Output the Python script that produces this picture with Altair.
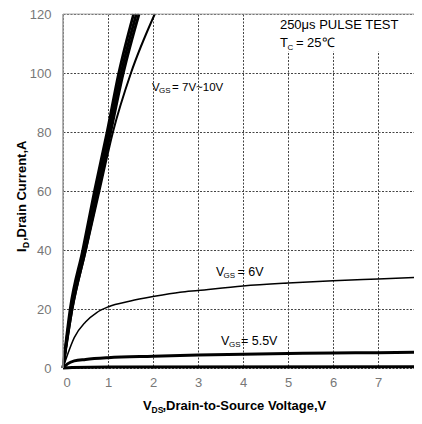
import altair as alt
import pandas as pd

# ---------------- data ----------------
x_ticks = [0, 1, 2, 3, 4, 5, 6, 7, 8]
y_ticks = [0, 20, 40, 60, 80, 100, 120]
x_domain = [0, 8]
y_domain = [0, 120]

# steep family, VGS = 7V ~ 10V (current points shared)
steep_i = [0, 20, 40, 60, 80, 100, 120]
vgs10_v = [0, 0.16, 0.44, 0.70, 0.98, 1.24, 1.57]
vgs9_v = [0, 0.18, 0.47, 0.74, 1.02, 1.29, 1.63]
vgs8_v = [0, 0.20, 0.50, 0.78, 1.06, 1.34, 1.69]
vgs7_v = [0, 0.21, 0.51, 0.81, 1.11, 1.51, 2.04]

vgs6_v = [0, 0.1, 0.25, 0.5, 0.75, 1.0, 1.5, 2.0, 2.6, 3.0, 4.0, 5.0, 6.0, 7.0, 8.0]
vgs6_i = [0, 4.5, 10.3, 15.6, 18.8, 20.7, 22.7, 24.2, 25.7, 26.3, 27.8, 28.8, 29.6, 30.2, 30.8]

vgs55_v = [0, 0.1, 0.25, 0.5, 1.0, 2.0, 3.0, 4.0, 5.0, 6.0, 7.0, 8.0]
vgs55_i = [0, 1.4, 2.4, 2.9, 3.5, 4.0, 4.4, 4.7, 4.9, 5.1, 5.2, 5.4]

vgs5_v = [0, 0.2, 1.0, 8.0]
vgs5_i = [0, 0.2, 0.3, 0.4]

# annotation texts (anchor in data units)
note_pulse = "250\u03bcs PULSE TEST"
note_tc = ["T", "C", "= 25\u2103"]
lab_steep = ["V", "GS", "= 7V~10V"]
lab_6 = ["V", "GS", "= 6V"]
lab_55 = ["V", "GS", "= 5.5V"]
x_title = ["V", "DS", ",Drain-to-Source Voltage,V"]
y_title = ["I", "D", ",Drain Current,A"]

FONT = "Liberation Sans"
W, H = 351, 354      # visible plot area (right part of the 0..8 range is cut, as in the source)
X_RANGE = 360        # pixel length of the full 0..8 axis

rows = []
def add(name, vs, is_):
    for v, i in zip(vs, is_):
        rows.append({"s": name, "x": v, "y": i})

add("10V", vgs10_v, steep_i)
add("9V", vgs9_v, steep_i)
add("8V", vgs8_v, steep_i)
add("7V", vgs7_v, steep_i)
add("6V", vgs6_v, vgs6_i)
add("5.5V", vgs55_v, vgs55_i)
add("5V", vgs5_v, vgs5_i)
df = pd.DataFrame(rows)

xs = alt.Scale(domain=x_domain, range=[0, X_RANGE], nice=False, zero=False)
ys = alt.Scale(domain=y_domain, nice=False, zero=False)
x_axis = alt.Axis(values=x_ticks, title=None, grid=True, ticks=False, domain=False,
                  labelColor="#777", labelFont=FONT, labelFontSize=13, labelPadding=8,
                  gridColor="#444", gridDash=[2, 1.5], gridWidth=1, format="d",
                  labelBound=False, labelOverlap=False)
y_axis = alt.Axis(values=y_ticks, title=None, grid=True, ticks=False, domain=False,
                  labelColor="#777", labelFont=FONT, labelFontSize=13, labelPadding=12,
                  gridColor="#444", gridDash=[2, 1.5], gridWidth=1, format="d")
X = alt.X("x:Q", scale=xs, axis=x_axis, title=None)
Y = alt.Y("y:Q", scale=ys, axis=y_axis, title=None)

base = alt.Chart(df).encode(x=X, y=Y)

def curves(names, width):
    return base.transform_filter(
        alt.FieldOneOfPredicate(field="s", oneOf=names)
    ).mark_line(color="black", strokeWidth=width, interpolate="monotone").encode(
        detail="s:N")

layers = []

# white box behind the pulse-test note (hides grid there)
box = alt.Chart(pd.DataFrame([{"x": 4.55, "x2": 8.0, "y": 107.3, "y2": 119.6}])).mark_rect(
    color="white").encode(x=X, x2="x2:Q", y=Y, y2="y2:Q")
layers.append(box)

layers.append(curves(["10V", "9V", "8V"], 2.8))
layers.append(curves(["7V"], 2.0))
layers.append(curves(["6V"], 1.5))
layers.append(curves(["5.5V", "5V"], 3))

# frame: left and top borders
left = alt.Chart(pd.DataFrame([{"x": x_domain[0]}])).mark_rule(color="#999", strokeWidth=1.5).encode(x=X)
top = alt.Chart(pd.DataFrame([{"y": y_domain[1], "x": x_domain[0], "x2": x_domain[1]}])).mark_rule(
    color="#aaa", strokeWidth=1).encode(y=Y, x=X, x2="x2:Q")
layers += [left, top]

def dtext(text, x, y, size, dx=0, dy=0):
    return alt.Chart(pd.DataFrame([{"t": text, "x": x, "y": y}])).mark_text(
        align="left", baseline="alphabetic", font=FONT, fontSize=size, color="black",
        dx=dx, dy=dy).encode(x=X, y=Y, text="t:N")

def label3(parts, x, y, size, sub_dx, rest_dx, sub_size=8):
    return [dtext(parts[0], x, y, size),
            dtext(parts[1], x, y, sub_size, dx=sub_dx, dy=2.5),
            dtext(parts[2], x, y, size, dx=rest_dx)]

layers.append(dtext(note_pulse, 4.82, 114.9, 13))
layers += label3(note_tc, 4.82, 108.8, 13, 7.5, 16)
layers += label3(lab_steep, 1.98, 93.9, 11.5, 7, 20)
layers += label3(lab_6, 3.4, 31.2, 12.5, 7.5, 21.5)
layers += label3(lab_55, 3.51, 7.9, 12.5, 8, 20)

def ptext(text, px, py, size, angle=0):
    return alt.Chart(pd.DataFrame([{"t": text}])).mark_text(
        align="left", baseline="alphabetic", font=FONT, fontSize=size, fontWeight="bold",
        color="black", angle=angle).encode(x=alt.value(px), y=alt.value(py), text="t:N")

# x axis title (pixel layout relative to plot area)
layers += [ptext(x_title[0], 80, 396, 13),
           ptext(x_title[1], 88.5, 399, 8.5),
           ptext(x_title[2], 99.5, 396, 13)]
# y axis title, rotated
layers += [ptext(y_title[0], -37, 238, 13, angle=270),
           ptext(y_title[1], -34, 234, 8.5, angle=270),
           ptext(y_title[2], -37, 227, 13, angle=270)]

chart = alt.layer(*layers).properties(
    width=W, height=H,
    autosize=alt.AutoSizeParams(type="none"),
    padding={"left": 55, "top": 6, "right": 0, "bottom": 47},
).configure_view(stroke=None)

chart.save("out.html", embed_options={"renderer": "svg", "actions": False})
